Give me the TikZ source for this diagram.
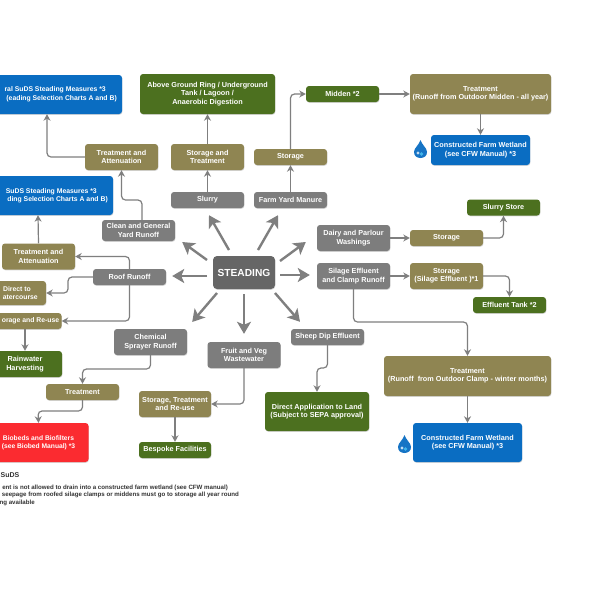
\documentclass[tikz,border=0pt]{standalone}
\usepackage{fontspec}
\setmainfont{Liberation Sans}
\usetikzlibrary{arrows.meta,shadows,calc}
\definecolor{cblue}{HTML}{0A6DC2}
\definecolor{cgreen}{HTML}{4C701F}
\definecolor{colive}{HTML}{8F8552}
\definecolor{cgray}{HTML}{7D7D7D}
\definecolor{cdark}{HTML}{666666}
\definecolor{cred}{HTML}{FB2B30}
\definecolor{cline}{HTML}{7F7F7F}
\tikzset{
  bx/.style={rounded corners=3pt,inner sep=0pt,align=center,minimum width=73pt,minimum height=16pt,
    text=white,font=\fontsize{7.25}{8.4}\selectfont\bfseries,
    drop shadow={shadow xshift=0.4pt,shadow yshift=-0.8pt,opacity=0.3}},
  olivebox/.style={bx,fill=colive},
  greenbox/.style={bx,fill=cgreen},
  bluebox/.style={bx,fill=cblue},
  graybox/.style={bx,fill=cgray},
  redbox/.style={bx,fill=cred},
  lbl/.style={inner sep=0pt,text=white,font=\fontsize{7.25}{8.4}\selectfont\bfseries},
  tightlbl/.style={inner sep=0pt,text=white,font=\fontsize{6.85}{8.4}\selectfont\bfseries},
  legend/.style={inner sep=0pt,anchor=east,text=black!80,font=\fontsize{6.15}{7}\selectfont\bfseries},
  conn/.style={draw=cline,line width=1.2pt,rounded corners=4pt,-{Stealth[length=6.5pt,width=7pt]}},
  fat/.style={draw=cline,line width=2.4pt,-{Stealth[length=12pt,width=14pt,inset=3pt]}},
}
\newcommand{\waterdrop}[3]{%
  \fill[cblue!95!white] (#1,#2-9) .. controls (#1+1.5,#2-4) and (#1+6.5,#2-1) .. (#1+6.5,#2+3)
     .. controls (#1+6.5,#2+7) and (#1+3.5,#2+9) .. (#1,#2+9)
     .. controls (#1-3.5,#2+9) and (#1-6.5,#2+7) .. (#1-6.5,#2+3)
     .. controls (#1-6.5,#2-1) and (#1-1.5,#2-4) .. (#1,#2-9) -- cycle;
  \fill[white,opacity=.75] (#1-2.5,#2+4) circle[radius=1.6];
  \fill[cyan!70!white,opacity=.8] (#1+1,#2+5) circle[radius=1.8];
}
\begin{document}
\begin{tikzpicture}[x=1pt,y=-1pt]
\useasboundingbox (0,0) rectangle (600,600);
\fill[white] (0,0) rectangle (600,600);
\clip (0,0) rectangle (600,600);
% top row
\node[bluebox,minimum width=150pt,minimum height=39pt] (blueA) at (47,94.5) {};
\node[tightlbl,anchor=east] (blueAa) at (106,90) {ral SuDS Steading Measures *3};
\node[tightlbl,anchor=east] (blueAb) at (117,99) {(eading Selection Charts A and B)};
\node[greenbox,minimum width=135pt,minimum height=40pt] (green) at (207.5,94) {Above Ground Ring / Underground\\Tank / Lagoon /\\Anaerobic Digestion};
\node[greenbox] (midden) at (342.5,94) {Midden *2};
\node[olivebox,minimum width=141pt,minimum height=40pt] (tmid) at (480.5,94) {Treatment\\(Runoff from Outdoor Midden - all year)};
\node[bluebox,minimum width=99pt,minimum height=30pt] (cfwA) at (480.5,150) {Constructed Farm Wetland\\(see CFW Manual) *3};
\node[olivebox,minimum height=26pt] (taA) at (121.5,157) {Treatment and\\Attenuation};
\node[olivebox,minimum height=26pt] (stt) at (207.5,157) {Storage and\\Treatment};
\node[olivebox] (stm) at (290.5,157) {Storage};
\node[bluebox,minimum width=150pt,minimum height=39pt] (blueB) at (38,195.5) {};
\node[tightlbl,anchor=east] (blueBa) at (97,191.5) {SuDS Steading Measures *3};
\node[tightlbl,anchor=east] (blueBb) at (108,200) {ding Selection Charts A and B)};
\node[graybox] (slurry) at (207.5,200) {Slurry};
\node[graybox] (farm) at (290.5,200) {Farm Yard Manure};
\node[greenbox] (sstore) at (503.5,207.5) {Slurry Store};
\node[graybox,minimum height=21pt] (clean) at (138.5,230.5) {Clean and General\\Yard Runoff};
\node[graybox,minimum height=26pt] (dairy) at (353.5,238) {Dairy and Parlour\\Washings};
\node[olivebox] (stb) at (446.5,238) {Storage};
\node[olivebox,minimum height=26pt] (taB) at (38.5,256.5) {Treatment and\\Attenuation};
% centre row
\node[bx,fill=cdark,minimum width=62pt,minimum height=33pt,font=\fontsize{10.2}{12}\selectfont\bfseries,rounded corners=4pt] (steading) at (244,272.5) {STEADING};
\node[graybox] (roof) at (129.5,277) {Roof Runoff};
\node[graybox,minimum height=26pt] (silage) at (353.5,276) {Silage Effluent\\and Clamp Runoff};
\node[olivebox,minimum height=26pt] (stc) at (446.5,276) {Storage\\(Silage Effluent )*1};
\node[olivebox,minimum width=58pt,minimum height=24pt] (direct) at (17,293) {};
\node[tightlbl] (directa) at (17,289) {Direct to};
\node[tightlbl,anchor=east] (directb) at (38,297.5) {atercourse};
\node[greenbox] (tank) at (509.5,305) {Effluent Tank *2};
\node[olivebox] (sru) at (25,321) {};
\node[tightlbl,anchor=east] (srub) at (59.5,321) {orage and Re-use};
\node[graybox] (sheep) at (327.5,337) {Sheep Dip Effluent};
\node[graybox,minimum height=26pt] (chem) at (150.5,342) {Chemical\\Sprayer Runoff};
\node[graybox,minimum height=26pt] (fruit) at (244,355) {Fruit and Veg\\Wastewater};
\node[greenbox,minimum width=74pt,minimum height=26pt] (rain) at (25,364) {Rainwater\\Harvesting};
\node[olivebox,minimum width=167pt,minimum height=40pt] (tclamp) at (467.5,376) {Treatment\\(Runoff~ from Outdoor Clamp - winter months)};
\node[olivebox] (tchem) at (82.5,392) {Treatment};
\node[olivebox,minimum width=72pt,minimum height=26pt] (srt) at (175,404) {Storage, Treatment\\and Re-use};
\node[greenbox,minimum width=104pt,minimum height=39pt] (dal) at (317,411.5) {Direct Application to Land\\(Subject to SEPA approval)};
\node[redbox,minimum width=100pt,minimum height=39pt,font=\fontsize{6.7}{8.4}\selectfont\bfseries] (bio) at (38.5,442.5) {Biobeds and Biofilters\\(see Biobed Manual) *3};
\node[bluebox,minimum width=109pt,minimum height=39pt] (cfwB) at (467.5,442.5) {Constructed Farm Wetland\\(see CFW Manual) *3};
\node[greenbox,minimum width=72pt] (besp) at (175,450) {Bespoke Facilities};
% legend
\node[legend,font=\fontsize{7}{8}\selectfont\bfseries] (lega) at (19.5,475) {SuDS};
\node[legend] (legb) at (228,488) {ent is not allowed to drain into a constructed farm wetland (see CFW manual)};
\node[legend] (legc) at (239,495) {seepage from roofed silage clamps or middens must go to storage all year round};
\node[legend] (legd) at (35,503) {ng available};
% via points
\coordinate (vclean) at (121.5,200);
\coordinate (vclamp) at (400,322);
\coordinate (vsheep) at (317,368);
\coordinate (vchem) at (82.5,369);
\coordinate (vtreat) at (38,411);
\coordinate (vroof) at (68,285);
% thin connectors
\draw[conn] (taA.west) -| (blueA.south);
\draw[conn] ([xshift=3.5pt]clean.north) |- (vclean) -- (taA.south);
\draw[conn] (slurry.north) -- (stt.south);
\draw[conn] (stt.north) -- (green.south);
\draw[conn] (farm.north) -- (stm.south);
\draw[conn] (stm.north) |- (midden.west);
\draw[conn] (midden.east) -- (tmid.west);
\draw[conn] (tmid.south) -- (cfwA.north);
\draw[conn] (dairy.east) -- (stb.west);
\draw[conn] (stb.east) -| (sstore.south);
\draw[conn] (silage.east) -- (stc.west);
\draw[conn] (stc.east) -| (tank.north);
\draw[conn] (silage.south) |- (vclamp) -| (tclamp.north);
\draw[conn] (tclamp.south) -- (cfwB.north);
\draw[conn] (sheep.south) |- (vsheep) -- (dal.north);
\draw[conn] (fruit.south) |- (srt.east);
\draw[conn] (srt.south) -- (besp.north);
\draw[conn] (chem.south) |- (vchem) -- (tchem.north);
\draw[conn] (tchem.south) |- (vtreat) -- (bio.north);
\draw[conn] (taB.north) -- (blueB.south);
\draw[conn] (roof.north) |- (taB.east);
\draw[conn] (roof.west) -| (vroof) |- (direct.east);
\draw[conn] (roof.south) |- (sru.east);
\draw[conn] (sru.south) -- (rain.north);
% thick connectors from the steading
\draw[fat] ([shift={(-37,-12.5)}]steading.center) -- ([shift={(7,11.5)}]clean.east);
\draw[fat] ([shift={(-15,-22.5)}]steading.center) -- ([shift={(1.5,7)}]slurry.south);
\draw[fat] ([shift={(14,-22.5)}]steading.center) -- ([shift={(-12.5,7)}]farm.south);
\draw[fat] ([shift={(36,-11.5)}]steading.center) -- ([shift={(-11,4)}]dairy.west);
\draw[fat] ([shift={(36,2.5)}]steading.center) -- ([shift={(-7,-1)}]silage.west);
\draw[fat] ([shift={(-37,3.5)}]steading.center) -- ([shift={(6,-1)}]roof.east);
\draw[fat] ([shift={(-27,20.5)}]steading.center) -- ([shift={(5,-20)}]chem.east);
\draw[fat] ([shift={(0,21.5)}]steading.center) -- ([shift={(0,-8)}]fruit.north);
\draw[fat] ([shift={(31,20.5)}]steading.center) -- ([shift={(-27.5,-7)}]sheep.north);
% water drops
\waterdrop{420.5}{149}{}
\waterdrop{404.5}{444}{}
\end{tikzpicture}
\end{document}
